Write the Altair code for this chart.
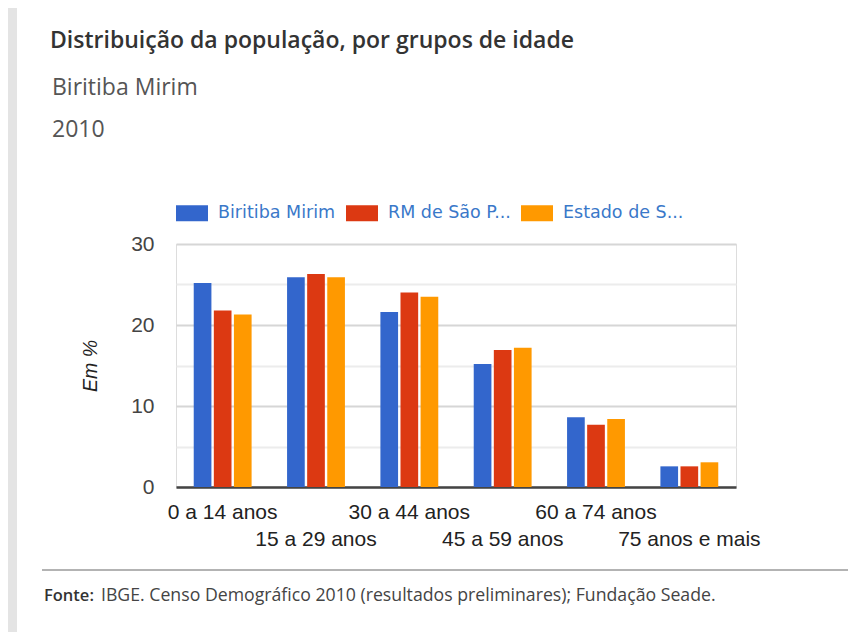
import altair as alt
import pandas as pd

categories = ["0 a 14 anos", "15 a 29 anos", "30 a 44 anos",
              "45 a 59 anos", "60 a 74 anos", "75 anos e mais"]
series = ["Biritiba Mirim", "RM de São Paulo", "Estado de São Paulo"]
biritiba = [25.2, 25.9, 21.6, 15.2, 8.6, 2.55]
rm_sp = [21.8, 26.3, 24.0, 16.9, 7.7, 2.55]
estado_sp = [21.3, 25.9, 23.5, 17.2, 8.4, 3.05]
colors = ["#3366cc", "#dc3912", "#ff9900"]

title_text = "Distribuição da população, por grupos de idade"
subtitle_lines = ["Biritiba Mirim", "2010"]
source_bold = "Fonte:"
source_text = "IBGE. Censo Demográfico 2010 (resultados preliminares); Fundação Seade."

rows = []
for name, vals in zip(series, [biritiba, rm_sp, estado_sp]):
    for cat, v in zip(categories, vals):
        rows.append({"Faixa": cat, "Série": name, "Valor": v})
df = pd.DataFrame(rows)

lower = categories[1::2]
lower_js = "[" + ",".join("'" + c + "'" for c in lower) + "]"

bars = alt.Chart(df).mark_bar().encode(
    x=alt.X("Faixa:N", sort=categories,
            scale=alt.Scale(paddingInner=0.38, paddingOuter=0.19),
            axis=alt.Axis(title=None, labelAngle=0, ticks=False,
                          labelFont="Liberation Sans", labelFontSize=21,
                          labelColor="#222", labelPadding=14,
                          labelLineHeight=27, labelOverlap=False,
                          labelExpr=f"indexof({lower_js}, datum.label) >= 0 ? ['', datum.label] : datum.label",
                          domainColor="#444", domainWidth=2.5)),
    xOffset=alt.XOffset("Série:N", sort=series,
                        scale=alt.Scale(paddingInner=0.12, paddingOuter=0)),
    y=alt.Y("Valor:Q",
            scale=alt.Scale(domain=[0, 30], nice=False),
            axis=alt.Axis(title="Em %", values=[0, 5, 10, 15, 20, 25, 30],
                          labelExpr="datum.value % 10 == 0 ? datum.label : ''",
                          ticks=False, domain=False,
                          labelFont="Liberation Sans", labelFontSize=21,
                          labelColor="#444", labelPadding=22,
                          gridColor=alt.condition("datum.value % 10 == 0",
                                                  alt.value("#d6d6d6"),
                                                  alt.value("#ececec")),
                          gridWidth=2,
                          titleFont="Liberation Sans", titleFontSize=19.5,
                          titleFontStyle="italic", titleFontWeight="normal",
                          titleColor="#222", titlePadding=30)),
    color=alt.Color("Série:N", sort=series,
                    scale=alt.Scale(domain=series, range=colors),
                    legend=alt.Legend(title=None, orient="none",
                                      direction="horizontal",
                                      legendX=0, legendY=-47,
                                      symbolType="M-1,-0.5H1V0.5H-1Z",
                                      symbolSize=1024, symbolStrokeWidth=0,
                                      symbolOpacity=1,
                                      labelFont="DejaVu Sans",
                                      labelFontSize=17.5,
                                      labelColor="#3a78c9",
                                      labelOffset=10, columnPadding=10,
                                      labelExpr="truncate(datum.label, 14, 'right', '...')",
                                      labelLimit=300, padding=0)),
)

one = pd.DataFrame({"k": [0]})

title = alt.Chart(one).mark_text(
    text=title_text, align="left", baseline="alphabetic",
    font="Open Sans", fontSize=23, fontWeight=600, color="#333"
).encode(x=alt.value(-126), y=alt.value(-196))

sub1 = alt.Chart(one).mark_text(
    text=subtitle_lines[0], align="left", baseline="alphabetic",
    font="Open Sans", fontSize=23, color="#555"
).encode(x=alt.value(-124), y=alt.value(-149))

sub2 = alt.Chart(one).mark_text(
    text=subtitle_lines[1], align="left", baseline="alphabetic",
    font="Open Sans", fontSize=23, color="#555"
).encode(x=alt.value(-124), y=alt.value(-107))

rule = alt.Chart(one).mark_rule(color="#9a9a9a", strokeWidth=1.5).encode(
    x=alt.value(-134), x2=alt.value(672), y=alt.value(326))

border = alt.Chart(one).mark_rect(color="#e4e4e4").encode(
    x=alt.value(-168), x2=alt.value(-159), y=alt.value(-236), y2=alt.value(388))

src_b = alt.Chart(one).mark_text(
    text=source_bold, align="left", baseline="alphabetic",
    font="Open Sans", fontSize=16.5, fontWeight=600, color="#333"
).encode(x=alt.value(-132), y=alt.value(357))

src_t = alt.Chart(one).mark_text(
    text=source_text, align="left", baseline="alphabetic",
    font="Open Sans", fontSize=17.7, color="#444"
).encode(x=alt.value(-75), y=alt.value(357))

chart = alt.layer(border, bars, title, sub1, sub2, rule, src_b, src_t).properties(
    width=560, height=243,
    autosize=alt.AutoSizeParams(type="none"),
    padding={"left": 168, "top": 236, "right": 112, "bottom": 145},
).configure_view(stroke=None).configure(background="white")

chart.save("out.html", embed_options={"renderer": "svg", "actions": False})
